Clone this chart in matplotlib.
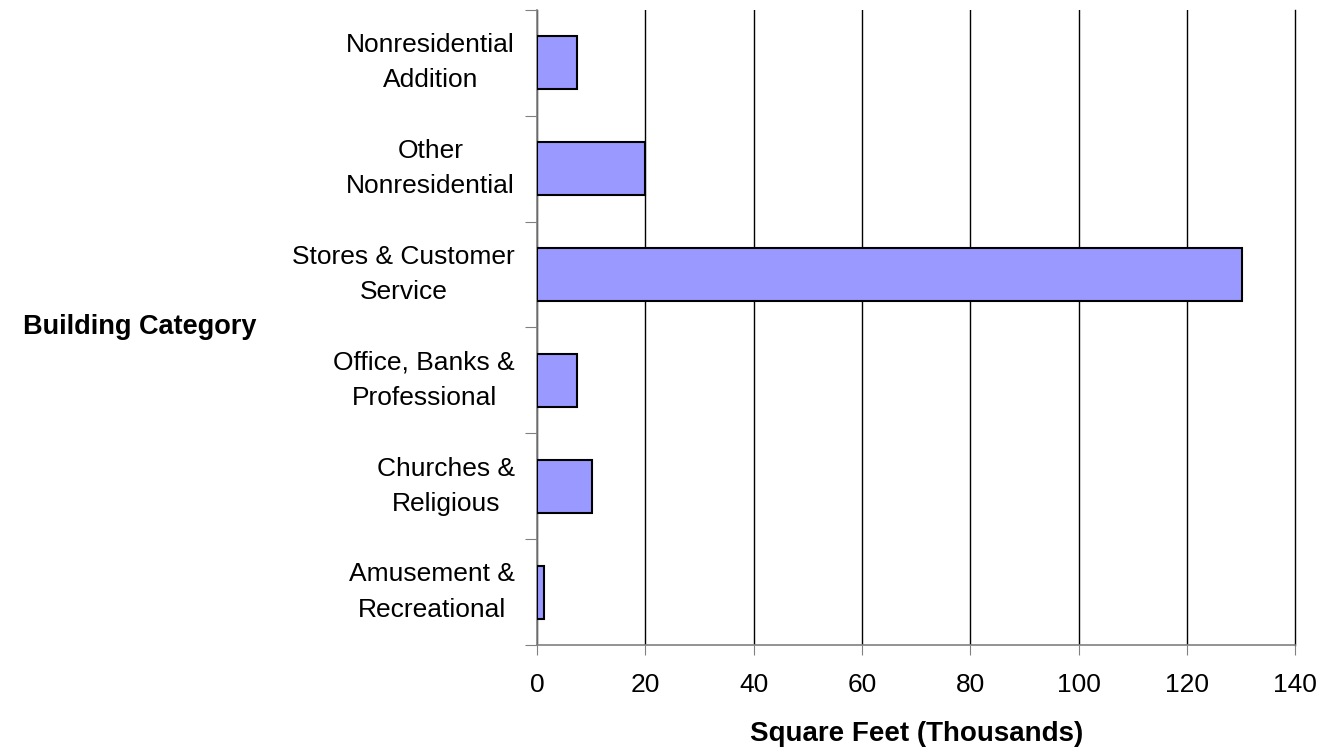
import matplotlib.pyplot as plt

categories = ['Amusement &\nRecreational', 'Churches &\nReligious', 'Office, Banks &\nProfessional',
              'Stores & Customer\nService', 'Other\nNonresidential', 'Nonresidential\nAddition']
values = [1.3, 10.2, 7.3, 130.2, 20.0, 7.3]
xticks = [0, 20, 40, 60, 80, 100, 120, 140]

plt.rcParams['font.family'] = ['Liberation Sans', 'DejaVu Sans']

fig = plt.figure(figsize=(13.23, 7.51), dpi=100)
ax = fig.add_axes([0.406, 0.141, 0.573, 0.846])

ax.barh(range(len(categories)), values, height=0.5, color='#9999FF',
        edgecolor='black', linewidth=1.5, zorder=3)

ax.set_xlim(0, 140)
ax.set_ylim(-0.5, len(categories) - 0.5)
ax.set_xticks(xticks)
ax.set_xticklabels([str(t) for t in xticks], fontsize=19)
ax.set_yticks([i - 0.5 for i in range(len(categories) + 1)], minor=False)
ax.set_yticklabels([])
ax.set_yticks(range(len(categories)), minor=True)
ax.set_yticklabels(categories, minor=True, fontsize=19, multialignment='center',
                   linespacing=1.6, va='center')
ax.tick_params(axis='y', which='minor', length=0, pad=16)
ax.tick_params(axis='y', which='major', length=9, color='#808080')
ax.tick_params(axis='x', length=7, color='#808080', pad=13)

ax.grid(axis='x', color='black', linewidth=1, zorder=0)
ax.get_xgridlines()[-1].set_clip_on(False)
for s in ['top', 'right']:
    ax.spines[s].set_visible(False)
for s in ['left', 'bottom']:
    ax.spines[s].set_color('#808080')
    ax.spines[s].set_linewidth(1.2)

ax.set_xlabel('Square Feet (Thousands)', fontsize=20, fontweight='bold', va='center')
ax.xaxis.set_label_coords(0.5, -0.14)
ax.set_ylabel('Building Category', fontsize=19.5, fontweight='bold', rotation=0, va='center')
ax.yaxis.set_label_coords(-0.524, 0.5)

fig.savefig('out.png', dpi=100)
